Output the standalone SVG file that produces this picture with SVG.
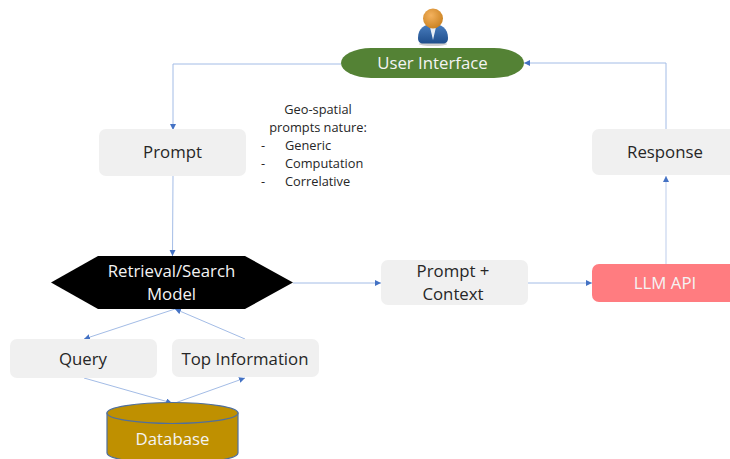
<svg xmlns="http://www.w3.org/2000/svg" width="730" height="459" viewBox="0 0 730 459">
<defs>
<marker id="ah" markerUnits="userSpaceOnUse" markerWidth="7" markerHeight="7" refX="6" refY="3" orient="auto"><path d="M0,0L6,3L0,6Z" fill="#4472c4"/></marker>
<radialGradient id="head" cx="0.4" cy="0.35" r="0.7"><stop offset="0" stop-color="#f4b25e"/><stop offset="1" stop-color="#c9801f"/></radialGradient>
<linearGradient id="body" x1="0" y1="0" x2="0" y2="1"><stop offset="0" stop-color="#4a7fc0"/><stop offset="1" stop-color="#1f4e8c"/></linearGradient>
</defs>
<style>
text{font-family:"Open Sans","Noto Sans","Liberation Sans",sans-serif;text-anchor:middle}
.b{fill:#f0f0f0}
.l{font-size:16.800px;fill:#262626}
.w{font-size:16.800px;fill:#f4f4f4}
.s{font-size:12.800px;fill:#262626}
.c{fill:none;stroke:#a3bce6;stroke-width:1;marker-end:url(#ah)}
</style>
<rect width="730" height="459" fill="#fff"/>
<g id="connectors">
<path class="c" d="M341,64H173V130"/>
<path class="c" d="M666,130V63H524"/>
<path class="c" d="M173,176L172.500,256"/>
<path class="c" d="M293,283H381"/>
<path class="c" d="M528,283H592"/>
<path class="c" style="stroke:#d3def2;stroke-width:1.500" d="M666,264V176"/>
<path class="c" d="M175,309L84,339"/>
<path class="c" d="M245,339L175,309"/>
<path class="c" d="M84,378L172,403"/>
<path class="c" d="M175,403L245,378"/>
</g>
<g id="person">
<ellipse cx="433" cy="44" rx="14" ry="2" fill="#cfcfcf"/>
<path d="M418,38C418,28 425,24 433,24C441,24 448,28 448,38C448,42 446,43.500 443,43.500H423C420,43.500 418,42 418,38Z" fill="url(#body)"/>
<path d="M430,27L433,40L436,27Z" fill="#e8eef5"/>
<circle cx="433" cy="18.500" r="10" fill="url(#head)"/>
</g>
<g id="user-interface">
<rect x="341" y="48" width="183" height="30" rx="30" ry="15" fill="#548235"/>
<text class="w" x="432.500" y="69">User Interface</text>
</g>
<g id="prompt">
<rect class="b" x="99" y="129" width="147" height="47" rx="7"/>
<text class="l" x="172.500" y="158">Prompt</text>
</g>
<g id="response">
<rect class="b" x="592" y="129" width="147" height="46" rx="7"/>
<text class="l" x="665" y="158">Response</text>
</g>
<g id="nature-note">
<text class="s" x="318" y="114">Geo-spatial</text>
<text class="s" x="318" y="132">prompts nature:</text>
<text class="s" x="263" y="150">-</text><text class="s" x="285" y="150" style="text-anchor:start">Generic</text>
<text class="s" x="263" y="168">-</text><text class="s" x="285" y="168" style="text-anchor:start">Computation</text>
<text class="s" x="263" y="186">-</text><text class="s" x="285" y="186" style="text-anchor:start">Correlative</text>
</g>
<g id="retrieval-model">
<path d="M51,282.500L98,256H245L293,282.500L245,309H98Z" fill="#000"/>
<text class="w" x="171.500" y="277">Retrieval/Search</text>
<text class="w" x="171.500" y="300">Model</text>
</g>
<g id="prompt-context">
<rect class="b" x="381" y="260" width="147" height="45" rx="7"/>
<text class="l" x="453" y="277">Prompt +</text>
<text class="l" x="453" y="300">Context</text>
</g>
<g id="llm-api">
<rect x="592" y="264" width="147" height="38" rx="7" fill="#ff7c80"/>
<text class="w" x="665" y="289">LLM API</text>
</g>
<g id="query">
<rect class="b" x="10" y="339" width="147" height="39" rx="7"/>
<text class="l" x="83" y="365">Query</text>
</g>
<g id="top-information">
<rect class="b" x="172" y="339" width="147" height="38" rx="7"/>
<text class="l" x="245" y="365">Top Information</text>
</g>
<g id="database">
<path d="M107,413V453A65.500,10.500 0 0 0 238,453V413Z" fill="#bf9000" stroke="#4f6f9f" stroke-width="1.200"/>
<ellipse cx="172.500" cy="413" rx="65.500" ry="10.500" fill="#bf9000" stroke="#4f6f9f" stroke-width="1.200"/>
<text class="w" x="172.500" y="445">Database</text>
</g>
</svg>
